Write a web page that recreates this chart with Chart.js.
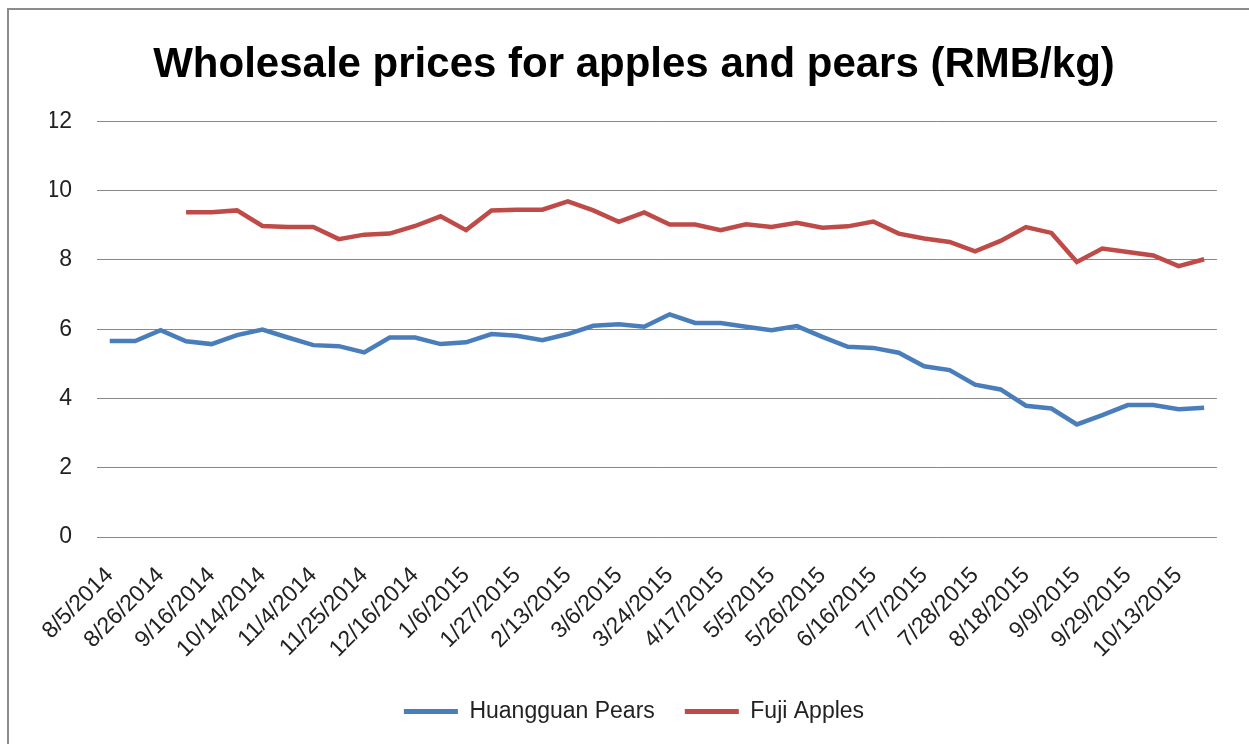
<!DOCTYPE html>
<html lang="en">
<head>
    <meta charset="UTF-8">
    <title>Wholesale prices for apples and pears</title>
    <script src="https://cdn.jsdelivr.net/npm/chart.js@4.4.1/dist/chart.umd.min.js"></script>
    <style>
        body { margin: 0; background: #fff; }
        #wrap { position: relative; width: 1249px; height: 744px; }
    </style>
</head>
<body>
<div id="wrap">
    <canvas id="myChart" width="1249" height="744"></canvas>
</div>

<script type="text/javascript">
    // one label per data point, only every second one is shown on the axis
    var dates = [
        "8/5/2014", "8/15/2014", "8/26/2014", "9/5/2014", "9/16/2014", "9/26/2014",
        "10/14/2014", "10/24/2014", "11/4/2014", "11/14/2014", "11/25/2014", "12/5/2014",
        "12/16/2014", "12/26/2014", "1/6/2015", "1/16/2015", "1/27/2015", "2/5/2015",
        "2/13/2015", "2/27/2015", "3/6/2015", "3/13/2015", "3/24/2015", "4/3/2015",
        "4/17/2015", "4/24/2015", "5/5/2015", "5/15/2015", "5/26/2015", "6/5/2015",
        "6/16/2015", "6/26/2015", "7/7/2015", "7/17/2015", "7/28/2015", "8/7/2015",
        "8/18/2015", "8/28/2015", "9/9/2015", "9/18/2015", "9/29/2015", "10/9/2015",
        "10/13/2015", "10/23/2015"
    ];

    var pears = [
        5.66, 5.66, 5.97, 5.65, 5.57, 5.83, 5.99, 5.76, 5.54, 5.51,
        5.33, 5.76, 5.76, 5.57, 5.62, 5.86, 5.81, 5.68, 5.86, 6.10,
        6.14, 6.07, 6.43, 6.18, 6.18, 6.07, 5.97, 6.09, 5.78, 5.49,
        5.46, 5.32, 4.93, 4.82, 4.40, 4.26, 3.79, 3.71, 3.25, 3.52,
        3.81, 3.81, 3.69, 3.73
    ];

    var apples = [
        null, null, null, 9.38, 9.38, 9.43, 8.98, 8.95, 8.95, 8.60,
        8.73, 8.76, 8.98, 9.26, 8.86, 9.43, 9.45, 9.45, 9.69, 9.43,
        9.10, 9.37, 9.02, 9.02, 8.86, 9.03, 8.95, 9.07, 8.93, 8.97,
        9.11, 8.76, 8.62, 8.52, 8.25, 8.55, 8.95, 8.78, 7.94, 8.33,
        8.23, 8.13, 7.82, 8.02
    ];

    var yTicks = [0, 2, 4, 6, 8, 10, 12];

    var labelFont = '"Liberation Sans", Arial, sans-serif';

    // grey frame of the chart box
    var framePlugin = {
        id: "frame",
        beforeDraw: function (chart) {
            var c = chart.ctx;
            c.save();
            c.fillStyle = "#ffffff";
            c.fillRect(0, 0, chart.width, chart.height);
            c.strokeStyle = "#8c8c8c";
            c.lineWidth = 2;
            c.beginPath();
            c.moveTo(8, chart.height + 10);
            c.lineTo(8, 9);
            c.lineTo(chart.width + 10, 9);
            c.stroke();
            c.restore();
        }
    };

    var ctx = document.getElementById("myChart");

    new Chart(ctx, {
        "type": "line",
        "data": {
            "labels": dates,
            "datasets": [{
                "label": "Huangguan Pears",
                "data": pears,
                "borderColor": "#4a7ebb",
                "backgroundColor": "#4a7ebb",
                "borderWidth": 4.5,
                "pointRadius": 0,
                "fill": false,
                "lineTension": 0
            }, {
                "label": "Fuji Apples",
                "data": apples,
                "borderColor": "#be4b48",
                "backgroundColor": "#be4b48",
                "borderWidth": 4.5,
                "pointRadius": 0,
                "fill": false,
                "lineTension": 0
            }]
        },
        "options": {
            "responsive": false,
            "animation": false,
            "layout": {
                "padding": {"left": 50, "right": 31, "top": 0, "bottom": 11}
            },
            "plugins": {
                "title": {
                    "display": true,
                    "text": "Wholesale prices for apples and pears (RMB/kg)",
                    "color": "#000000",
                    "font": {"family": '"Liberation Sans Narrow", "Liberation Sans", sans-serif', "size": 42, "weight": "bold"},
                    "padding": {"top": 40, "bottom": 31}
                },
                "legend": {
                    "position": "bottom",
                    "labels": {
                        "color": "#222222",
                        "font": {"family": labelFont, "size": 23},
                        "boxWidth": 54,
                        "boxHeight": 5,
                        "padding": 30,
                        "generateLabels": function (chart) {
                            var items = Chart.defaults.plugins.legend.labels.generateLabels(chart);
                            items.forEach(function (it) { it.lineWidth = 0; });
                            return items;
                        }
                    }
                },
                "tooltip": {"enabled": false}
            },
            "scales": {
                "x": {
                    "offset": true,
                    "grid": {"display": false, "drawTicks": false},
                    "border": {"display": false},
                    "ticks": {
                        "autoSkip": false,
                        "minRotation": 45,
                        "maxRotation": 45,
                        "padding": 25,
                        "color": "#222222",
                        "font": {"family": labelFont, "size": 23},
                        "callback": function (value, index) {
                            return index % 2 === 0 ? dates[index] : "";
                        }
                    },
                    "afterFit": function (scale) {
                        scale.height = 133;
                    }
                },
                "y": {
                    "min": 0,
                    "max": 12,
                    "grid": {"color": "#878787", "lineWidth": 1, "drawTicks": false},
                    "border": {"display": false},
                    "afterBuildTicks": function (scale) {
                        scale.ticks = yTicks.map(function (v) { return {value: v}; });
                    },
                    "ticks": {
                        "padding": 25,
                        "color": "#222222",
                        "font": {"family": labelFont, "size": 23}
                    },
                    "afterFit": function (scale) {
                        scale.width = 47;
                    }
                }
            }
        },
        "plugins": [framePlugin]
    });
</script>

</body>
</html>
